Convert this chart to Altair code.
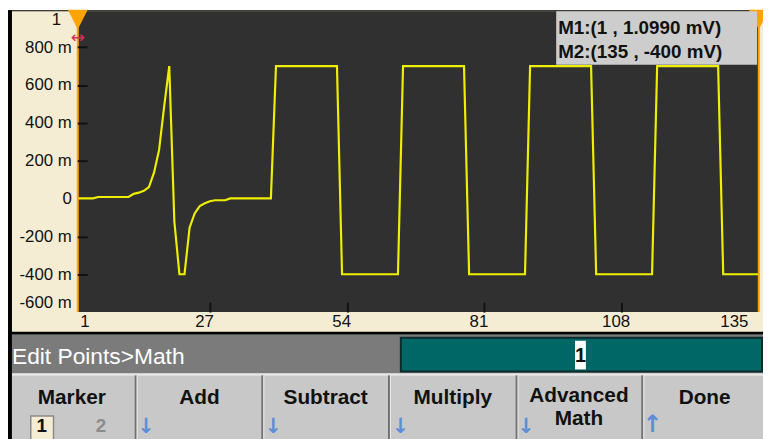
import altair as alt
import pandas as pd

# ---------------- data ----------------
points = list(range(1, 136))
values_mv = [
    1.099, 1, 1, 1, 8, 8, 8, 8, 8, 8,
    8, 25, 31, 41, 61, 137, 257, 487, 700, -120,
    -400, -400, -154, -79, -40, -25, -14, -9, -9, -9,
    1, 1, 1, 1, 1, 1, 1, 1, 1, 700,
    700, 700, 700, 700, 700, 700, 700, 700, 700, 700,
    700, 700, -400, -400, -400, -400, -400, -400, -400, -400,
    -400, -400, -400, -400, 700, 700, 700, 700, 700, 700,
    700, 700, 700, 700, 700, 700, 700, -400, -400, -400,
    -400, -400, -400, -400, -400, -400, -400, -400, -400, 700,
    700, 700, 700, 700, 700, 700, 700, 700, 700, 700,
    700, 700, -400, -400, -400, -400, -400, -400, -400, -400,
    -400, -400, -400, -400, 700, 700, 700, 700, 700, 700,
    700, 700, 700, 700, 700, 700, 700, -400, -400, -400,
    -400, -400, -400, -400, -400,
]
x_ticks = [1, 27, 54, 81, 108, 135]
y_ticks = [800, 600, 400, 200, 0, -200, -400, -600]
marker_points = [1, 135]
marker_names = ["1", "2"]
readout = ["M1:(1 , 1.0990 mV)", "M2:(135 , -400 mV)"]
status_text = "Edit Points>Math"
entry_value = "1"
softkeys = ["Marker", "Add", "Subtract", "Multiply", "Advanced", "Math", "Done"]

wave_df = pd.DataFrame({"point": points, "mv": values_mv})
mark_df = pd.DataFrame({"point": marker_points, "name": marker_names})
one = pd.DataFrame({"k": [0]})

# ---------------- style ----------------
W, H = 689, 304
FONT = "Liberation Sans"
BEIGE = "#f5edd3"
PLOT_BG = "#303030"
YELLOW = "#eeee00"
ORANGE = "#ffa300"
INK = "#111111"
BLUE = "#5b8ed6"

xs = alt.Scale(domain=[0.9, 135.05], nice=False, zero=False)
ys = alt.Scale(domain=[-600, 990], nice=False, zero=False)

x_axis = alt.Axis(
    values=x_ticks, title=None, grid=False, domain=False, offset=-10,
    tickSize=10, tickWidth=2, tickColor=INK,
    tickOpacity={"condition": {"test": "datum.value == 1 || datum.value == 135", "value": 0}, "value": 1},
    labelFont=FONT, labelFontSize=17, labelColor=INK, labelPadding=2,
    labelFlush=False, labelOverlap=False,
    labelAlign={"condition": [{"test": "datum.value == 1", "value": "left"},
                              {"test": "datum.value == 135", "value": "right"}], "value": "center"},
    labelOffset={"condition": [{"test": "datum.value == 1", "value": 2},
                               {"test": "datum.value == 135", "value": -11}], "value": -6},
    zindex=1,
)
y_axis = alt.Axis(
    values=y_ticks, title=None, grid=False, domain=False, offset=-10,
    tickSize=10, tickWidth=2, tickColor=INK,
    tickOpacity={"condition": {"test": "datum.value == -600 || datum.value == 0", "value": 0}, "value": 1},
    labelFont=FONT, labelFontSize=17, labelColor=INK, labelPadding=6,
    labelFlush=False, labelOverlap=False,
    labelExpr="datum.value == 0 ? '0' : datum.value + ' m'",
    labelOffset={"condition": {"test": "datum.value == -600", "value": -10}, "value": 0},
    zindex=1,
)
X = alt.X("point:Q", scale=xs, axis=x_axis)


def box(x, x2, y, y2, fill, stroke=None, sw=0):
    kw = {"fill": fill}
    if stroke:
        kw.update(stroke=stroke, strokeWidth=sw)
    else:
        kw.update(strokeWidth=0)
    return alt.Chart(one).mark_rect(**kw).encode(
        x=alt.value(x), x2=alt.value(x2), y=alt.value(y), y2=alt.value(y2))


def label(txt, x, y, size, color=INK, weight="bold", align="center",
          baseline="middle", font=FONT):
    return alt.Chart(one).mark_text(
        text=txt, font=font, fontSize=size, fontWeight=weight, color=color,
        align=align, baseline=baseline).encode(x=alt.value(x), y=alt.value(y))


layers = []
# panels
layers.append(box(-70, 700, -1, 325, BEIGE))                 # beige frame
layers.append(box(0, W, 0, H, PLOT_BG))                       # plot area
layers.append(box(-70, -66, -1, 440, "#000000"))              # left border
layers.append(box(-70, 700, -1, 0, "#000000"))                # top border
layers.append(box(-70, 700, 324, 327, "#000000"))             # separator
layers.append(box(-66, 700, 327, 366, "#7b7b7b"))             # status bar
layers.append(box(-66, 700, 366, 368, "#e6e6e6"))
layers.append(box(-66, 700, 368, 440, "#c8c8c8"))             # softkey row
# entry field
layers.append(box(327, 692, 330, 364, "#006767", "#0d2b2b", 2))
layers.append(box(503, 514, 333, 362, "#ffffff"))
layers.append(label(entry_value, 508.5, 348, 20))
layers.append(label(status_text, -66, 349.5, 23, color="#ffffff", weight="normal", align="left"))
# softkey dividers
for dx in [59, 187, 315, 444, 571]:
    layers.append(box(dx - 1, dx + 1, 368, 440, "#707070"))
    layers.append(box(dx + 1, dx + 2, 368, 440, "#ececec"))
# softkey labels
sk_pos = [(-5.5, 390.5), (123.5, 390.5), (251, 390.5), (379.5, 390.5),
          (507, 389), (507, 412.5), (634, 390.5)]
for t, (px, py) in zip(softkeys, sk_pos):
    layers.append(label(t, px, py, 21))
# marker selector
layers.append(box(-47, -24, 409, 440, BEIGE, "#8a8a8a", 1.5))
layers.append(label(marker_names[0], -36, 419, 19))
layers.append(label(marker_names[1], 24, 419, 19, color="#8c8c8c"))
# arrows
for ax in [69.5, 198, 326.5, 453.5]:
    layers.append(label("\u2193", ax, 430, 21, color=BLUE, font="DejaVu Sans", baseline="bottom"))
layers.append(label("\u2191", 581.5, 430, 24, color=BLUE, font="DejaVu Sans", baseline="bottom"))

# waveform
wave = alt.Chart(wave_df).mark_line(color=YELLOW, strokeWidth=2.2, clip=True).encode(
    x=X, y=alt.Y("mv:Q", scale=ys, axis=y_axis))
layers.append(wave)

# markers
layers.append(alt.Chart(mark_df).mark_rule(color=ORANGE, strokeWidth=2).encode(
    x=X, y=alt.value(0), y2=alt.value(H)))
layers.append(alt.Chart(mark_df).mark_point(
    shape="M-1,-1L1,-1L0,1Z", size=400, filled=True, opacity=1, color=ORANGE).encode(
    x=X, y=alt.value(8.5)))
layers.append(alt.Chart(mark_df).transform_filter("datum.point == 1").mark_text(
    text="\u2194", font="DejaVu Sans", fontSize=17, color="#d6305a").encode(
    x=X, y=alt.value(27)))
layers.append(label(marker_names[0], -21, 9, 17, weight="normal"))

# readout
layers.append(box(484, 687, 0, 54, "#cdcdcd"))
layers.append(label(readout[0], 486, 17, 19, align="left"))
layers.append(label(readout[1], 486, 41, 19, align="left"))

chart = alt.layer(*layers).properties(
    width=W, height=H,
    padding={"left": 70, "top": 1, "right": 4, "bottom": 126},
    autosize=alt.AutoSizeParams(type="none"),
    background="#ffffff",
).configure_view(stroke=None)

chart.save("out.html", embed_options={"renderer": "svg", "actions": False})
